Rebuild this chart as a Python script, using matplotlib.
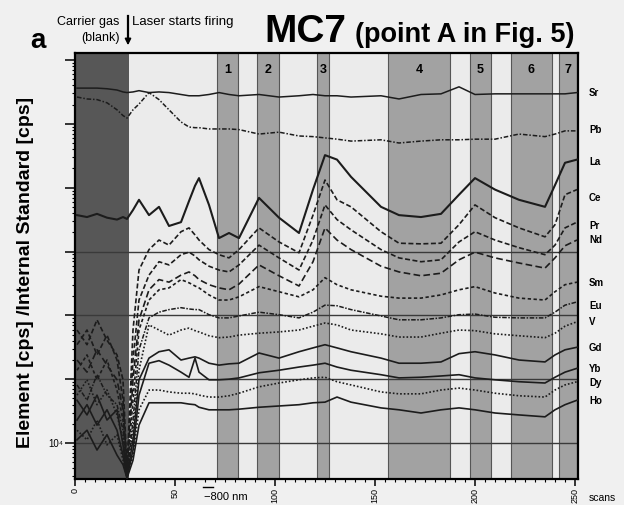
import numpy as np
import matplotlib.pyplot as plt
from matplotlib.lines import Line2D
from matplotlib.ticker import MultipleLocator, LogLocator, NullFormatter
import matplotlib.transforms as mtransforms

plt.rcParams['font.family'] = ['Liberation Sans', 'DejaVu Sans']

# scan numbers shared by all traces
scans = [1, 6, 11, 16, 21, 24, 26, 29, 32, 37, 42, 47, 53, 57, 60, 62, 67, 72, 77, 82,
         92, 102, 112, 119, 125, 131, 138, 153, 162, 173, 183, 192, 200, 210, 222, 235,
         240, 245, 251]

# log10 of element / internal standard signal
sr = [9.56, 9.56, 9.56, 9.55, 9.53, 9.50, 9.49, 9.50, 9.52, 9.49, 9.50, 9.49, 9.46, 9.44,
      9.44, 9.44, 9.46, 9.49, 9.46, 9.44, 9.46, 9.42, 9.44, 9.46, 9.44, 9.44, 9.42, 9.44,
      9.39, 9.46, 9.47, 9.58, 9.46, 9.47, 9.47, 9.47, 9.47, 9.47, 9.49]
pb = [9.42, 9.39, 9.38, 9.33, 9.22, 9.13, 9.09, 9.22, 9.31, 9.49, 9.38, 9.22, 9.03, 8.95,
      8.94, 8.94, 8.92, 8.92, 8.92, 8.91, 8.84, 8.87, 8.81, 8.80, 8.78, 8.76, 8.73, 8.75,
      8.70, 8.73, 8.75, 8.75, 8.76, 8.76, 8.84, 8.80, 8.84, 8.89, 8.89]
la = [7.57, 7.54, 7.59, 7.53, 7.50, 7.54, 7.51, 7.65, 7.81, 7.57, 7.70, 7.40, 7.46, 7.79,
      8.03, 8.15, 7.73, 7.21, 7.29, 7.21, 7.84, 7.53, 7.29, 7.97, 8.51, 8.44, 8.17, 7.70,
      7.57, 7.54, 7.59, 7.89, 8.15, 7.97, 7.81, 7.70, 8.04, 8.39, 8.44]
ce = [5.77, 5.54, 5.93, 5.61, 5.38, 4.99, 3.58, 5.77, 6.71, 7.03, 7.18, 7.10, 7.31, 7.37,
      7.26, 7.18, 7.03, 6.95, 6.90, 7.03, 7.37, 7.15, 6.98, 7.57, 8.12, 7.81, 7.70, 7.31,
      7.13, 7.12, 7.13, 7.42, 7.73, 7.53, 7.37, 7.23, 7.42, 7.89, 7.97]
pr = [5.54, 5.77, 5.38, 5.69, 5.30, 4.67, 3.55, 5.30, 6.24, 6.63, 6.84, 6.79, 6.95, 6.99,
      6.93, 6.87, 6.77, 6.71, 6.68, 6.79, 7.10, 6.90, 6.71, 7.18, 7.73, 7.50, 7.34, 7.03,
      6.90, 6.84, 6.87, 7.15, 7.31, 7.18, 7.06, 6.95, 7.10, 7.37, 7.46]
nd = [5.30, 5.11, 5.46, 5.22, 4.99, 4.52, 3.51, 4.99, 5.93, 6.40, 6.56, 6.52, 6.63, 6.68,
      6.62, 6.56, 6.48, 6.43, 6.40, 6.49, 6.79, 6.62, 6.46, 6.84, 7.37, 7.18, 7.03, 6.77,
      6.68, 6.62, 6.66, 6.87, 6.99, 6.90, 6.82, 6.74, 6.90, 7.09, 7.18]
sm = [5.14, 5.38, 4.99, 5.30, 4.83, 4.36, 3.50, 4.67, 5.77, 6.24, 6.40, 6.43, 6.56, 6.51,
      6.46, 6.43, 6.32, 6.24, 6.24, 6.29, 6.45, 6.37, 6.29, 6.40, 6.59, 6.48, 6.40, 6.30,
      6.27, 6.27, 6.32, 6.40, 6.45, 6.35, 6.27, 6.24, 6.37, 6.48, 6.52]
eu = [4.91, 4.67, 5.07, 4.75, 4.60, 4.20, 3.48, 4.36, 5.46, 5.96, 6.05, 6.09, 6.12, 6.10,
      6.09, 6.09, 6.01, 5.96, 5.96, 5.99, 6.05, 6.01, 5.96, 6.05, 6.16, 6.15, 6.09, 5.99,
      5.93, 5.93, 5.96, 6.01, 6.02, 5.97, 5.96, 5.96, 6.05, 6.16, 6.21]
v = [4.75, 4.99, 4.60, 4.83, 4.44, 4.05, 3.47, 4.20, 5.14, 5.85, 5.77, 5.69, 5.77, 5.80,
     5.76, 5.74, 5.68, 5.65, 5.66, 5.69, 5.72, 5.74, 5.77, 5.83, 5.88, 5.85, 5.77, 5.71,
     5.66, 5.66, 5.72, 5.77, 5.76, 5.71, 5.68, 5.65, 5.72, 5.83, 5.90]
gd = [4.67, 4.44, 4.75, 4.36, 4.52, 3.97, 3.47, 4.05, 4.99, 5.33, 5.43, 5.46, 5.30, 5.33,
      5.35, 5.33, 5.25, 5.22, 5.24, 5.25, 5.41, 5.33, 5.43, 5.49, 5.54, 5.49, 5.43, 5.33,
      5.25, 5.25, 5.27, 5.40, 5.43, 5.38, 5.30, 5.27, 5.38, 5.46, 5.50]
yb = [4.36, 4.60, 4.28, 4.52, 4.20, 3.81, 3.45, 3.89, 4.75, 5.25, 5.29, 5.22, 5.11, 5.03,
      5.33, 5.11, 4.99, 4.99, 5.00, 5.02, 5.10, 5.14, 5.19, 5.22, 5.25, 5.19, 5.14, 5.07,
      5.02, 5.03, 5.05, 5.07, 5.02, 4.99, 4.96, 4.94, 5.03, 5.11, 5.17]
dy = [4.20, 4.05, 4.36, 3.97, 4.13, 3.73, 3.45, 3.81, 4.52, 4.83, 4.83, 4.80, 4.78, 4.78,
      4.77, 4.75, 4.72, 4.72, 4.74, 4.78, 4.88, 4.94, 4.99, 5.02, 5.03, 4.96, 4.91, 4.80,
      4.77, 4.77, 4.83, 4.86, 4.83, 4.78, 4.74, 4.72, 4.83, 4.91, 4.96]
ho = [4.05, 4.20, 3.89, 4.13, 3.81, 3.66, 3.45, 3.73, 4.28, 4.63, 4.63, 4.63, 4.63, 4.61,
      4.60, 4.56, 4.52, 4.52, 4.52, 4.53, 4.56, 4.58, 4.60, 4.63, 4.64, 4.72, 4.64, 4.55,
      4.52, 4.47, 4.52, 4.55, 4.52, 4.47, 4.44, 4.41, 4.52, 4.60, 4.67]

elements = ['Sr', 'Pb', 'La', 'Ce', 'Pr', 'Nd', 'Sm', 'Eu', 'V', 'Gd', 'Yb', 'Dy', 'Ho']
series = [sr, pb, la, ce, pr, nd, sm, eu, v, gd, yb, dy, ho]

# carrier gas (blank) interval and the ablated spots, in scans
blank_span = (0, 27)
spots = [(71, 81.6), (91, 102), (120.9, 126.9), (156.7, 187.6),
         (197.5, 208), (217.9, 238.3), (241.8, 251.2)]
spot_names = ['1', '2', '3', '4', '5', '6', '7']

styles = {
    'Sr': ('-', 1.1), 'Pb': ((0, (3, 1.2, 1, 1.2)), 1.1), 'La': ('-', 1.5),
    'Ce': ((0, (3, 1.5)), 1.2), 'Pr': ((0, (3, 1.5)), 1.2), 'Nd': ((0, (4, 2)), 1.2),
    'Sm': ((0, (2, 1.5)), 1.2), 'Eu': ((0, (3, 1, 1, 1)), 1.1), 'V': ((0, (1, 1.2)), 1.2),
    'Gd': ('-', 1.2), 'Yb': ('-', 1.2), 'Dy': ((0, (1, 1.2)), 1.2), 'Ho': ('-', 1.2),
}
# right-hand element labels (pixel rows from the top)
label_rows = [93, 130, 162, 198, 226, 240, 283, 306, 322, 348, 369, 383, 401]

W, H = 624, 505
fig = plt.figure(figsize=(W / 100, H / 100), dpi=100, facecolor='#f0f0f0')
ax = fig.add_axes([75 / W, 1 - 479 / H, 503 / W, 426 / H])
ax.set_facecolor('#ebebeb')
ax.set_yscale('log')
ax.set_xlim(0, 251.5)
ax.set_ylim(10 ** 3.436, 10 ** 10.11)

ax.axvspan(*blank_span, color='#575757', zorder=0, lw=0)
trans = mtransforms.blended_transform_factory(ax.transData, ax.transAxes)
for (a, b), name in zip(spots, spot_names):
    ax.axvspan(a, b, color='#a2a2a2', zorder=0, lw=0)
    ax.axvline(a, color='#555555', lw=0.8, zorder=1)
    ax.axvline(b, color='#555555', lw=0.8, zorder=1)
    ax.text((a + b) / 2, 0.96, name, transform=trans, ha='center', va='center',
            fontsize=9, fontweight='bold')

for d in [4, 5, 6, 7]:
    ax.axhline(10 ** d, color='#3a3a3a', lw=1.0, zorder=1)

for name, vals in zip(elements, series):
    ls, lw = styles[name]
    ax.plot(scans, 10 ** np.array(vals), color='#1c1c1c', ls=ls, lw=lw, zorder=3)

for s in ax.spines.values():
    s.set_linewidth(1.6)

ax.set_xticks([0, 50, 100, 150, 200, 250])
ax.set_xticklabels(['0', '50', '100', '150', '200', '250'], rotation=90, fontsize=6.5)
ax.xaxis.set_minor_locator(MultipleLocator(5))
ax.set_yticks([10 ** d for d in range(4, 11)])
ax.set_yticklabels(['10\u2074'] + [''] * 6, fontsize=7)
ax.yaxis.set_minor_locator(LogLocator(base=10, subs=np.arange(2, 10)))
ax.yaxis.set_minor_formatter(NullFormatter())
ax.tick_params(which='major', direction='out', length=5, width=1.1, pad=1.5)
ax.tick_params(which='minor', direction='out', length=2.5, width=0.8)
ax.tick_params(axis='y', which='major', length=7)

for name, row in zip(elements, label_rows):
    fig.text(589 / W, 1 - row / H, name, fontsize=7, fontweight='bold', va='center')

fig.text(26 / W, 1 - 272 / H, 'Element [cps] /Internal Standard [cps]', rotation=90,
         fontsize=14, fontweight='bold', ha='center', va='center')
fig.text(30 / W, 1 - 48 / H, 'a', fontsize=20, fontweight='bold')
fig.text(264 / W, 1 - 42 / H, 'MC7', fontsize=28, fontweight='bold')
fig.text(355 / W, 1 - 42 / H, '(point A in Fig. 5)', fontsize=19.5, fontweight='bold')

fig.text(88 / W, 1 - 22 / H, 'Carrier gas', fontsize=9, ha='center', va='center')
fig.text(101 / W, 1 - 38 / H, '(blank)', fontsize=9, ha='center', va='center')
fig.text(132 / W, 1 - 22 / H, 'Laser starts firing', fontsize=9.5, va='center')
fig.add_artist(Line2D([128 / W, 128 / W], [1 - 16 / H, 1 - 40 / H], color='black', lw=1.6))
ax.annotate('', xy=(128 / W, 1 - 48 / H), xytext=(128 / W, 1 - 38 / H),
            xycoords='figure fraction', textcoords='figure fraction',
            arrowprops=dict(arrowstyle='-|>', color='black', lw=1.2, mutation_scale=9))

fig.text(226 / W, 1 - 497 / H, '\u2212800 nm', fontsize=8, ha='center', va='center')
fig.add_artist(Line2D([203 / W, 213 / W], [1 - 487 / H, 1 - 487 / H], color='black', lw=1))
fig.text(589 / W, 1 - 498 / H, 'scans', fontsize=7.5, va='center')

fig.savefig('out.png', dpi=100, facecolor=fig.get_facecolor())
